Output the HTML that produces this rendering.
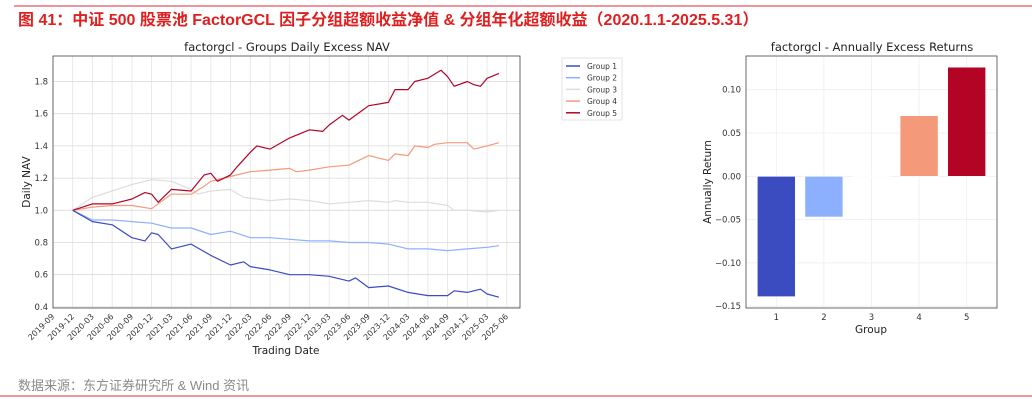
<!DOCTYPE html>
<html><head><meta charset="utf-8"><style>
body{margin:0;background:#fff;width:1032px;height:403px;overflow:hidden;font-family:"Liberation Sans","Noto Sans CJK SC",sans-serif}
svg text{font-family:"DejaVu Sans","Liberation Sans",sans-serif}
</style></head><body>
<svg width="1032" height="403">
<line x1="14" y1="6" x2="1032" y2="6" stroke="#e8747a" stroke-width="1.5"/>
<text x="18" y="25" fill="#e02020" font-size="16" font-weight="bold" style="font-family:'Liberation Sans','Noto Sans CJK SC',sans-serif">图 41：中证 500 股票池 FactorGCL 因子分组超额收益净值 &amp; 分组年化超额收益（2020.1.1-2025.5.31）</text>
<text x="18" y="390" fill="#8a8a8a" font-size="13" style="font-family:'Liberation Sans','Noto Sans CJK SC',sans-serif">数据来源：东方证券研究所 &amp; Wind 资讯</text>
<line x1="0" y1="396" x2="1032" y2="396" stroke="#e8747a" stroke-width="1.5"/>
<g id="left"></g>
<g id="right"></g>
</svg>
<script>
const months1=[0,3,6,9,11,12,13,15,18,21,24,26,27,30,33,36,39,42,43,45,48,51,54,57,58,60,62,63,65];
const g1=[1.0,0.93,0.91,0.83,0.81,0.86,0.85,0.76,0.79,0.72,0.66,0.68,0.65,0.63,0.60,0.60,0.59,0.56,0.58,0.52,0.53,0.49,0.47,0.47,0.50,0.49,0.51,0.48,0.46];
const months2=[0,3,6,9,12,15,18,21,24,27,30,33,36,39,42,45,48,51,54,57,60,63,65];
const g2=[1.0,0.94,0.94,0.93,0.92,0.89,0.89,0.85,0.87,0.83,0.83,0.82,0.81,0.81,0.80,0.80,0.79,0.76,0.76,0.75,0.76,0.77,0.78];
const months3=[0,3,6,9,12,15,18,19,21,24,26,30,33,36,39,42,45,48,49,51,54,57,58,60,63,65];
const g3=[1.0,1.08,1.12,1.16,1.19,1.18,1.13,1.10,1.12,1.13,1.08,1.06,1.07,1.06,1.04,1.05,1.06,1.05,1.06,1.05,1.05,1.03,1.00,1.00,0.99,1.00];
const months4=[0,3,6,9,12,15,18,20,21,24,27,30,33,34,36,39,42,45,48,49,51,52,54,55,57,60,61,63,65];
const g4=[1.0,1.02,1.03,1.03,1.01,1.10,1.10,1.15,1.18,1.21,1.24,1.25,1.26,1.24,1.25,1.27,1.28,1.34,1.31,1.35,1.34,1.40,1.39,1.41,1.42,1.42,1.38,1.40,1.42];
const months5=[0,3,6,9,11,12,13,15,18,20,21,22,24,25,27,28,30,33,36,38,39,41,42,44,45,48,49,51,52,54,56,57,58,60,61,62,63,65];
const g5=[1.0,1.04,1.04,1.07,1.11,1.10,1.05,1.13,1.12,1.22,1.23,1.18,1.22,1.27,1.36,1.40,1.38,1.45,1.50,1.49,1.53,1.59,1.56,1.62,1.65,1.67,1.75,1.75,1.80,1.82,1.87,1.83,1.77,1.80,1.78,1.77,1.82,1.85];
const yTicks=[0.4,0.6,0.8,1.0,1.2,1.4,1.6,1.8];
const xTickLabels=["2019-09","2019-12","2020-03","2020-06","2020-09","2020-12","2021-03","2021-06","2021-09","2021-12","2022-03","2022-06","2022-09","2022-12","2023-03","2023-06","2023-09","2023-12","2024-03","2024-06","2024-09","2024-12","2025-03","2025-06"];
const groups=["Group 1","Group 2","Group 3","Group 4","Group 5"];
const colors=["#3b4cc0","#8db0fe","#dddddd","#f49a7b","#b40426"];
const barCats=["1","2","3","4","5"];
const barVals=[-0.139,-0.047,0.0005,0.070,0.126];
const barTicks=[-0.15,-0.10,-0.05,0.00,0.05,0.10];

const NS="http://www.w3.org/2000/svg";
function mk(p,t,a,txt){const e=document.createElementNS(NS,t);for(const k in a)e.setAttribute(k,a[k]);if(txt!==undefined)e.textContent=txt;p.appendChild(e);return e;}
const L=document.getElementById('left');
const xL=m=>72.7+6.577*m;
const yL=v=>210.3-(v-1.0)*161;
const ax={x0:53,x1:520,y0:56,y1:308};
mk(L,'rect',{x:ax.x0,y:ax.y0,width:ax.x1-ax.x0,height:ax.y1-ax.y0,fill:'#fff',stroke:'none'});
xTickLabels.forEach((s,i)=>{const x=xL((i-1)*3);
 const g=mk(L,'line',{x1:x,y1:ax.y0,x2:x,y2:ax.y1,stroke:'#e4e4e4','stroke-width':0.8});
 
 const t=mk(L,'text',{x:x+2,y:ax.y1+9,'font-size':8,fill:'#333','text-anchor':'end',transform:`rotate(-45 ${x+2} ${ax.y1+9})`},s);
 });
yTicks.forEach(v=>{const y=yL(v);
 const g=mk(L,'line',{x1:ax.x0,y1:y,x2:ax.x1,y2:y,stroke:'#dadada','stroke-width':0.8});
 
 const t=mk(L,'text',{x:ax.x0-5,y:y+3,'font-size':8.5,fill:'#333','text-anchor':'end'},v.toFixed(1));
 });
mk(L,'rect',{x:ax.x0,y:ax.y0,width:ax.x1-ax.x0,height:ax.y1-ax.y0,fill:'none',stroke:'#444','stroke-width':0.8});
const series=[[months1,g1],[months2,g2],[months3,g3],[months4,g4],[months5,g5]];
[2,1,0,3,4].forEach(i=>{const [ms,vs]=series[i];
 const pts=ms.map((m,j)=>xL(Math.min(m,64.8)).toFixed(1)+','+yL(vs[j]).toFixed(1)).join(' ');
 const p=mk(L,'polyline',{points:pts,fill:'none',stroke:colors[i],'stroke-width':1.2,'stroke-linejoin':'round'});
 });
let t=mk(L,'text',{x:287,y:51,'font-size':11.5,fill:'#222','text-anchor':'middle'},'factorgcl - Groups Daily Excess NAV');

t=mk(L,'text',{x:286,y:354,'font-size':10.5,fill:'#222','text-anchor':'middle'},'Trading Date');

t=mk(L,'text',{x:30,y:182,'font-size':10.5,fill:'#222','text-anchor':'middle',transform:'rotate(-90 30 182)'},'Daily NAV');

const lg=mk(L,'g',{});

mk(lg,'rect',{x:562,y:58,width:60,height:62,fill:'#fff',stroke:'#ddd','stroke-width':0.8});
groups.forEach((g,i)=>{const y=66+i*11.7;
 const e=mk(lg,'line',{x1:566,y1:y,x2:580,y2:y,stroke:colors[i],'stroke-width':1.5});
 
 const tt=mk(lg,'text',{x:587,y:y+3,'font-size':7.5,fill:'#333'},g);
 });
const R=document.getElementById('right');
const bx={x0:746,x1:997,y0:56,y1:308};
const yR=v=>176.3-v*866;
const xR=i=>776.3+47.6*i;
barCats.forEach((c,i)=>{const x=xR(i);
 const g=mk(R,'line',{x1:x,y1:bx.y0,x2:x,y2:bx.y1,stroke:'#eee','stroke-width':0.8});
 
 const tt=mk(R,'text',{x:x,y:bx.y1+12,'font-size':8.5,fill:'#333','text-anchor':'middle'},c);
 });
barTicks.forEach(v=>{const y=yR(v);
 const g=mk(R,'line',{x1:bx.x0,y1:y,x2:bx.x1,y2:y,stroke:'#eee','stroke-width':0.8});
 
 const tt=mk(R,'text',{x:bx.x0-5,y:y+3,'font-size':8.5,fill:'#333','text-anchor':'end'},(v<0?'\u2212':'')+Math.abs(v).toFixed(2));
 });
barVals.forEach((v,i)=>{const y0=yR(0),y1=yR(v);
 const b=mk(R,'rect',{x:xR(i)-19,y:Math.min(y0,y1),width:38,height:Math.max(0.6,Math.abs(y1-y0)),fill:colors[i],stroke:'#fff','stroke-width':0.6});
 });
mk(R,'rect',{x:bx.x0,y:bx.y0,width:bx.x1-bx.x0,height:bx.y1-bx.y0,fill:'none',stroke:'#444','stroke-width':0.8});
t=mk(R,'text',{x:872,y:51,'font-size':11.5,fill:'#222','text-anchor':'middle'},'factorgcl - Annually Excess Returns');

t=mk(R,'text',{x:871,y:333,'font-size':10.5,fill:'#222','text-anchor':'middle'},'Group');

t=mk(R,'text',{x:711,y:182,'font-size':10.5,fill:'#222','text-anchor':'middle',transform:'rotate(-90 711 182)'},'Annually Return');

</script>
</body></html>
